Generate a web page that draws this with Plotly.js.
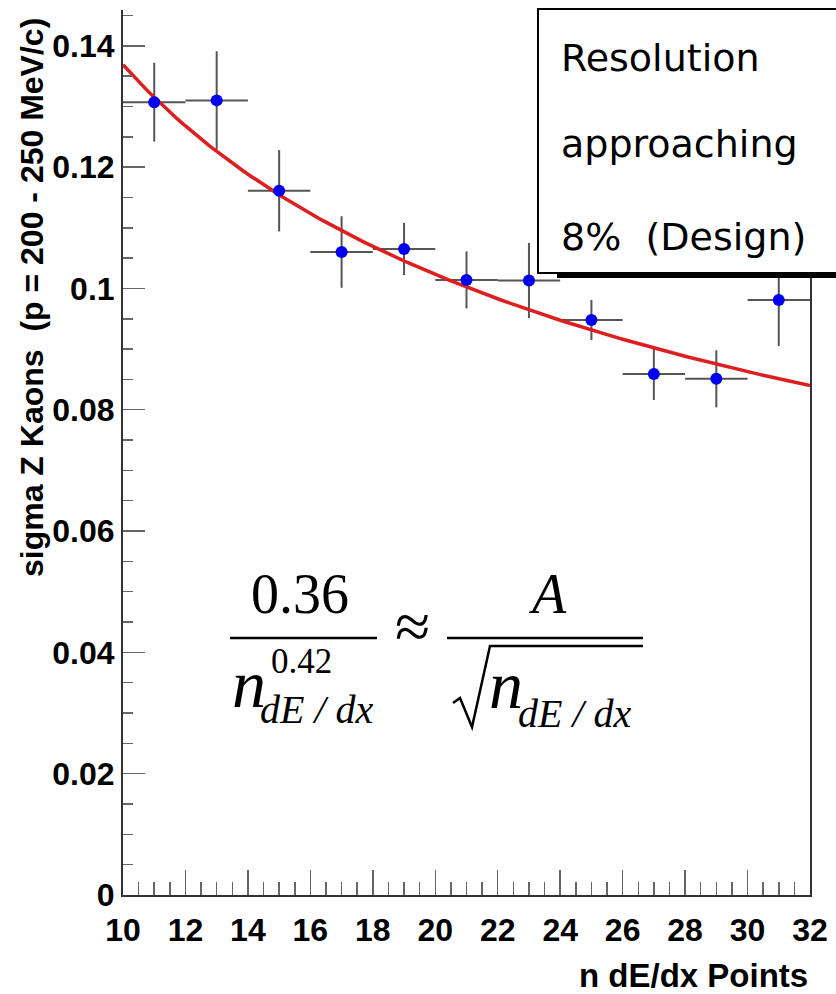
<!DOCTYPE html>
<html>
<head>
<meta charset="utf-8">
<script src="https://cdn.plot.ly/plotly-3.0.1.min.js"></script>
<style>
  html, body { margin: 0; padding: 0; background: #ffffff; }
  #chart { width: 836px; height: 994px; }
</style>
</head>
<body>
<div id="chart"></div>
<script>
// Kaon sigma-Z resolution versus number of dE/dx points
const nPoints    = [11, 13, 15, 17, 19, 21, 23, 25, 27, 29, 31];
const sigmaZ     = [0.1307, 0.1310, 0.1161, 0.1060, 0.1065, 0.1014, 0.1013, 0.0948, 0.0859, 0.0851, 0.0981];
const sigmaErr   = [0.0065, 0.0081, 0.0067, 0.0059, 0.0043, 0.0047, 0.0062, 0.0033, 0.0043, 0.0047, 0.0076];
const binHalf    = [1, 1, 1, 1, 1, 1, 1, 1, 1, 1, 1];

// power-law fit: sigma = fitA / n^fitPower
const fitA = 0.36;
const fitPower = 0.42;
const fitRange = [10, 32];

const xTickVals = [10, 12, 14, 16, 18, 20, 22, 24, 26, 28, 30, 32];
const xTickText = ['10', '12', '14', '16', '18', '20', '22', '24', '26', '28', '30', '32'];
const yTickVals = [0, 0.02, 0.04, 0.06, 0.08, 0.1, 0.12, 0.14];
const yTickText = ['0', '0.02', '0.04', '0.06', '0.08', '0.1', '0.12', '0.14'];

const noteLines = ['Resolution', 'approaching', '8%\u00a0 (Design)'];

// fit curve sampled along the axis range
const fitX = [], fitY = [];
for (let i = 0; i <= 176; i++) {
  const n = fitRange[0] + (fitRange[1] - fitRange[0]) * i / 176;
  fitX.push(n);
  fitY.push(fitA / Math.pow(n, fitPower));
}

// plot-area frame in page pixels, used to place decorations in paper units
const PL = 123, PR = 810, PT = 10, PB = 895;
const px = v => (v - PL) / (PR - PL);
const py = v => (PB - v) / (PB - PT);

const bold = { family: 'Liberation Sans, Arial, sans-serif', weight: 'bold', color: '#000' };
const serif = 'Liberation Serif, Times New Roman, serif';

const traces = [
  { // error crosses
    x: nPoints, y: sigmaZ, type: 'scatter', mode: 'markers',
    marker: { size: 1, color: 'rgba(0,0,0,0)' },
    error_y: { type: 'data', array: sigmaErr, visible: true, color: '#555', thickness: 2, width: 0 },
    error_x: { type: 'data', array: binHalf, visible: true, color: '#555', thickness: 2, width: 0 },
    hoverinfo: 'skip', showlegend: false
  },
  { // fit
    x: fitX, y: fitY, type: 'scatter', mode: 'lines',
    line: { color: '#dd1f1f', width: 3.5 }, showlegend: false
  },
  { // measured points
    x: nPoints, y: sigmaZ, type: 'scatter', mode: 'markers',
    marker: { size: 12, color: '#0000ee' }, showlegend: false
  }
];

function eqText(text, xPix, yPix, size, italic) {
  return {
    xref: 'paper', yref: 'paper', x: px(xPix), y: py(yPix),
    xanchor: 'center', yanchor: 'middle', showarrow: false,
    text: italic ? '<i>' + text + '</i>' : text,
    font: { family: serif, size: size, color: '#000' }
  };
}

const annotations = [
  // axis titles
  {
    xref: 'paper', yref: 'paper', x: px(32), y: py(298), xanchor: 'center', yanchor: 'middle',
    textangle: -90, showarrow: false,
    text: 'sigma Z Kaons\u00a0 (p = 200 - 250 MeV/c)',
    font: Object.assign({ size: 32 }, bold)
  },
  {
    xref: 'paper', yref: 'paper', x: 1, y: py(975), xanchor: 'right', yanchor: 'middle',
    showarrow: false, text: 'n dE/dx Points',
    font: Object.assign({ size: 33 }, bold)
  },
  // note box text
  ...noteLines.map((t, i) => ({
    xref: 'paper', yref: 'paper', x: px(559), y: py([58, 144, 237][i]),
    xanchor: 'left', yanchor: 'middle', showarrow: false, text: t,
    font: { family: 'DejaVu Sans, sans-serif', size: 38, color: '#000' }
  })),
  // fit formula
  eqText('0.36', 300, 594, 56, false),
  eqText('A', 547, 594, 56, true),
  eqText('\u2248', 412, 626, 64, false),
  eqText('n', 249, 684, 68, true),
  eqText('0.42', 301, 661, 35, false),
  eqText('dE / dx', 317, 709, 40, true),
  eqText('n', 506, 685, 68, true),
  eqText('dE / dx', 575, 713, 40, true)
];

const shapes = [
  // note box with drop shadow
  { type: 'rect', xref: 'paper', yref: 'paper', x0: px(557), x1: px(900), y0: py(13), y1: py(278),
    fillcolor: '#000', line: { width: 0 } },
  { type: 'rect', xref: 'paper', yref: 'paper', x0: px(538), x1: px(900), y0: py(9), y1: py(273),
    fillcolor: '#fff', line: { color: '#000', width: 2 } },
  // fraction bars
  { type: 'line', xref: 'paper', yref: 'paper', x0: px(230), x1: px(377), y0: py(638), y1: py(638),
    line: { color: '#000', width: 2.5 } },
  { type: 'line', xref: 'paper', yref: 'paper', x0: px(447), x1: px(643), y0: py(638), y1: py(638),
    line: { color: '#000', width: 2.5 } },
  // radical sign
  { type: 'path', xref: 'paper', yref: 'paper',
    path: 'M' + px(453) + ',' + py(703) + ' L' + px(460) + ',' + py(698) + ' L' + px(472) + ',' + py(727) +
          ' L' + px(490) + ',' + py(646) + ' L' + px(643) + ',' + py(646),
    line: { color: '#000', width: 2.5 } }
];

const axisCommon = {
  showgrid: false, zeroline: false, showline: true, linecolor: '#333', linewidth: 2,
  ticks: 'inside', tickcolor: '#666', tickwidth: 1.5, tickmode: 'array'
};

const layout = {
  width: 836, height: 994,
  margin: { l: PL, r: 836 - PR, t: PT, b: 994 - PB, pad: 0 },
  paper_bgcolor: '#fff', plot_bgcolor: '#fff',
  showlegend: false,
  xaxis: Object.assign({}, axisCommon, {
    range: [10, 32], tickvals: xTickVals, ticktext: xTickText, ticklen: 25, ticklabelstandoff: 6,
    tickfont: Object.assign({ size: 32 }, bold),
    minor: { tickmode: 'linear', tick0: 10, dtick: 0.5, ticks: 'inside', ticklen: 13, tickcolor: '#666', tickwidth: 1.5 }
  }),
  yaxis: Object.assign({}, axisCommon, {
    range: [0, 0.1459], tickvals: yTickVals, ticktext: yTickText, ticklen: 22, mirror: true,
    tickfont: Object.assign({ size: 32 }, bold),
    minor: { tickmode: 'linear', tick0: 0, dtick: 0.005, ticks: 'inside', ticklen: 10, tickcolor: '#666', tickwidth: 1.5 }
  }),
  annotations: annotations,
  shapes: shapes
};

Plotly.newPlot('chart', traces, layout, { displayModeBar: false, staticPlot: true });
</script>
</body>
</html>
